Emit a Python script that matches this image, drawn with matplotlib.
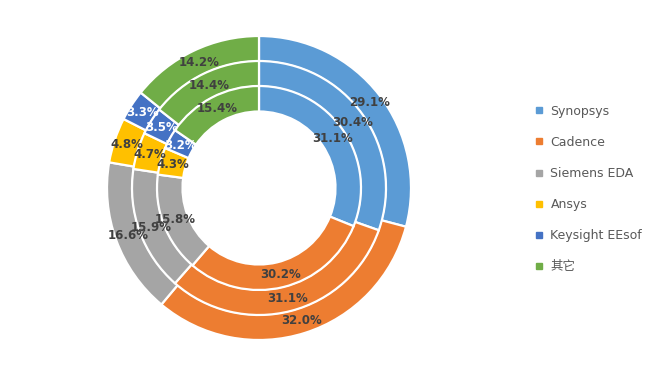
import matplotlib; matplotlib.use("Agg")
import matplotlib.pyplot as plt
from matplotlib.lines import Line2D

# ---- data ----
names = ["Synopsys", "Cadence", "Siemens EDA", "Ansys", "Keysight EEsof", "其它"]
outer = [29.1, 32.0, 16.6, 4.8, 3.3, 14.2]
middle = [30.4, 31.1, 15.9, 4.7, 3.5, 14.4]
inner = [31.1, 30.2, 15.8, 4.3, 3.2, 15.4]
colors = ["#5B9BD5", "#ED7D31", "#A5A5A5", "#FFC000", "#4472C4", "#70AD47"]
# Excel flips the label colour to white on the dark blue slice
lab_col = ["#404040", "#404040", "#404040", "#404040", "white", "#404040"]

plt.rcParams["font.family"] = ["DejaVu Sans", "Noto Sans CJK SC"]
fig = plt.figure(figsize=(6.61, 3.76), dpi=100)
ax = fig.add_axes([0, 0, 1, 1])

CX, CY = 259, 188
rings = [(outer, 152), (middle, 127), (inner, 102)]
W = 25.5
for vals, r in rings:
    wedges, texts = ax.pie(vals, radius=r, center=(CX, CY), startangle=90, counterclock=False,
                           colors=colors, labels=[f"{v:.1f}%" for v in vals],
                           labeldistance=(r - W / 2) / r,
                           wedgeprops=dict(width=W, edgecolor="white", linewidth=1.6),
                           textprops=dict(fontsize=8.5, fontweight="bold", ha="center", va="center"))
    for t, c in zip(texts, lab_col):
        t.set_color(c); t.set_ha("center"); t.set_zorder(5)

ax.set_xlim(0, 661); ax.set_ylim(0, 376); ax.set_aspect("equal"); ax.axis("off")

handles = [Line2D([], [], marker="s", ls="", color=c, markersize=4.5) for c in colors]
leg = ax.legend(handles, names, loc="center left", bbox_to_anchor=(528, 187),
                bbox_transform=ax.transData, frameon=False, fontsize=9,
                labelspacing=1.45, handlelength=0.8, handletextpad=0.5, borderpad=0)
for t in leg.get_texts():
    t.set_color("#595959")

fig.savefig("out.png", dpi=100)
